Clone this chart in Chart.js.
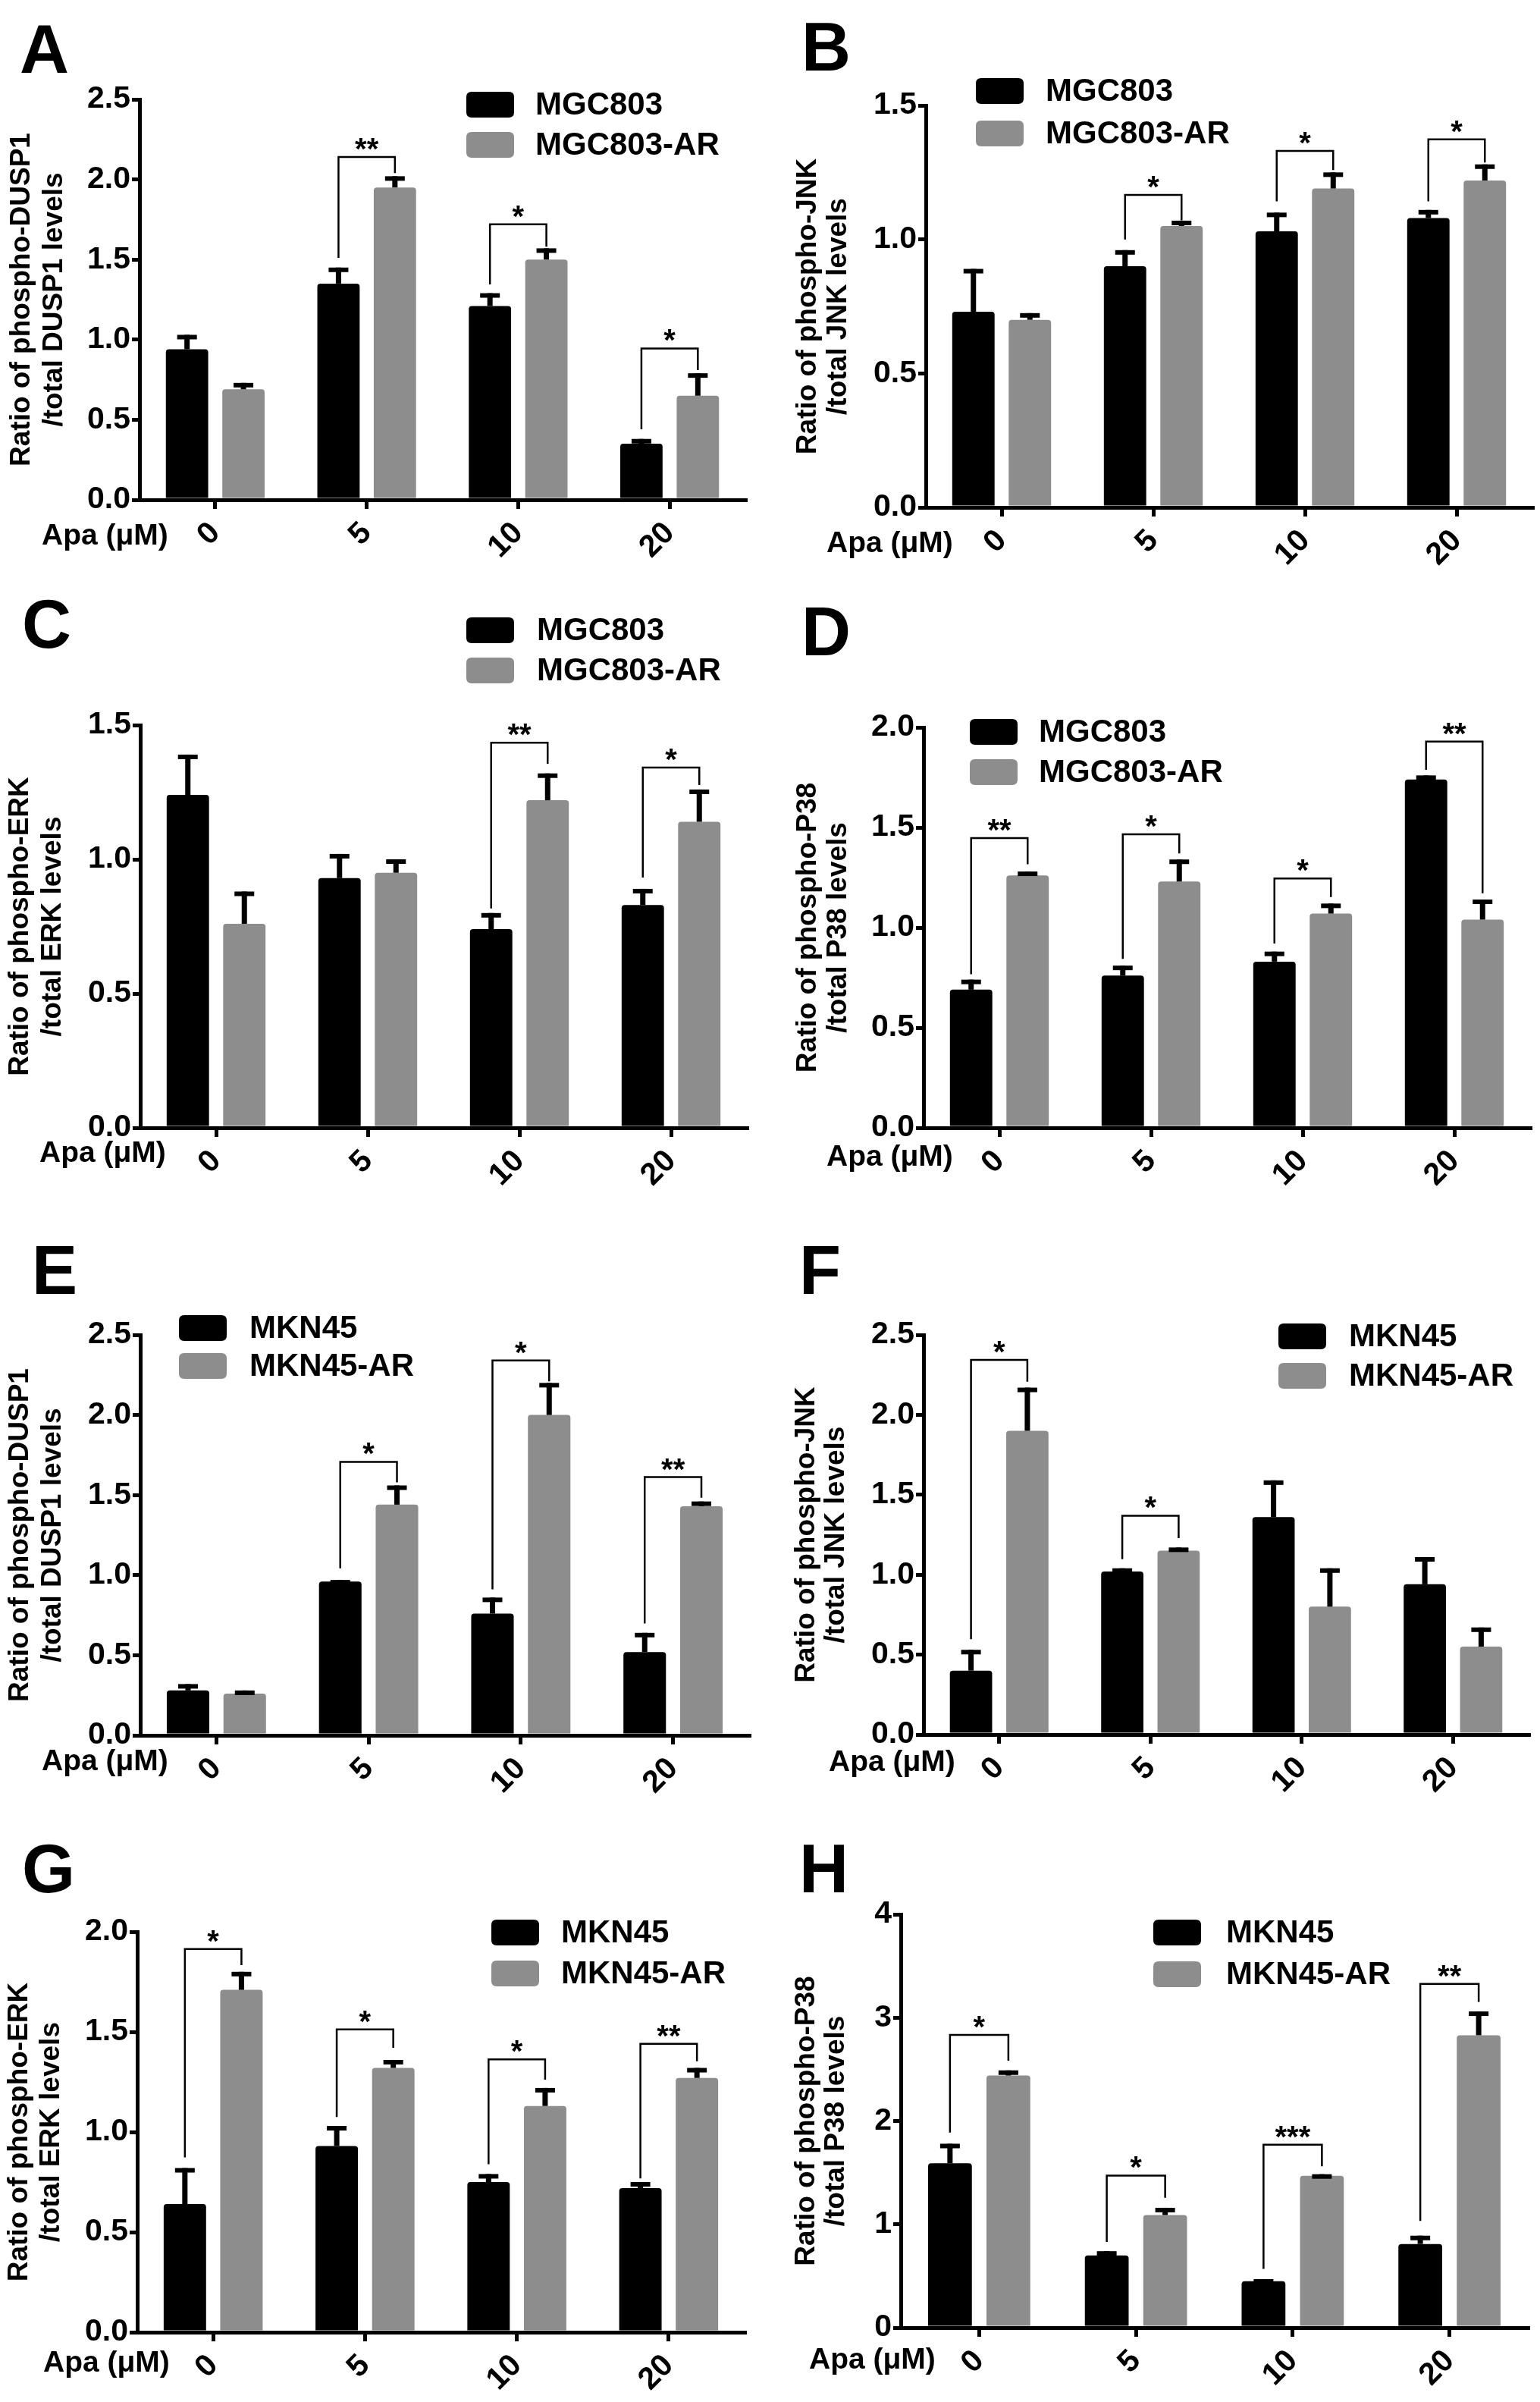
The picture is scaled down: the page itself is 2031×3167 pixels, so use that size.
<!DOCTYPE html>
<html><head><meta charset="utf-8">
<script src="https://cdn.jsdelivr.net/npm/chart.js@4.4.1/dist/chart.umd.min.js"></script>
<style>
html,body{margin:0;padding:0;background:#fff;}
#wrap{position:relative;width:2031px;height:3167px;background:#fff;overflow:hidden;}
#wrap canvas{position:absolute;}
</style></head><body><div id="wrap"></div>
<script>
// ---------------- DATA ----------------
const categories = ['0', '5', '10', '20'];
const doseLabel = 'Apa (μM)';
const mgcNames = ['MGC803', 'MGC803-AR'];
const mknNames = ['MKN45', 'MKN45-AR'];

// A: phospho-DUSP1 (MGC803)
const A_par = [0.94, 1.35, 1.21, 0.35];
const A_parErr = [0.09, 0.10, 0.08, 0.03];
const A_res = [0.69, 1.95, 1.50, 0.65];
const A_resErr = [0.04, 0.07, 0.07, 0.14];
const A_sigCat = [1, 2, 3];
const A_sigTop = [2.14, 1.72, 0.945];
const A_sigLeft = [1.51, 1.345, 0.44];
const A_sigRight = [2.04, 1.58, 0.81];
const A_sigText = ['**', '*', '*'];
const A_yTicks = [0, 0.5, 1.0, 1.5, 2.0, 2.5];

// B: phospho-JNK (MGC803)
const B_par = [0.73, 0.90, 1.03, 1.08];
const B_parErr = [0.16, 0.06, 0.07, 0.03];
const B_res = [0.70, 1.05, 1.19, 1.22];
const B_resErr = [0.025, 0.02, 0.06, 0.06];
const B_sigCat = [1, 2, 3];
const B_sigTop = [1.166, 1.33, 1.373];
const B_sigLeft = [1.0, 1.142, 1.142];
const B_sigRight = [1.071, 1.259, 1.287];
const B_sigText = ['*', '*', '*'];
const B_yTicks = [0, 0.5, 1.0, 1.5];

// C: phospho-ERK (MGC803)
const C_par = [1.24, 0.93, 0.74, 0.83];
const C_parErr = [0.15, 0.09, 0.06, 0.06];
const C_res = [0.76, 0.95, 1.22, 1.14];
const C_resErr = [0.12, 0.05, 0.10, 0.12];
const C_sigCat = [2, 3];
const C_sigTop = [1.434, 1.342];
const C_sigLeft = [0.817, 0.932];
const C_sigRight = [1.356, 1.277];
const C_sigText = ['**', '*'];
const C_yTicks = [0, 0.5, 1.0, 1.5];

// D: phospho-P38 (MGC803)
const D_par = [0.69, 0.76, 0.83, 1.74];
const D_parErr = [0.05, 0.05, 0.05, 0.02];
const D_res = [1.26, 1.23, 1.07, 1.04];
const D_resErr = [0.02, 0.11, 0.05, 0.10];
const D_sigCat = [0, 1, 2, 3];
const D_sigTop = [1.447, 1.466, 1.245, 1.929];
const D_sigLeft = [0.767, 0.844, 0.92, 1.788];
const D_sigRight = [1.316, 1.37, 1.152, 1.171];
const D_sigText = ['**', '*', '*', '**'];
const D_yTicks = [0, 0.5, 1.0, 1.5, 2.0];

// E: phospho-DUSP1 (MKN45)
const E_par = [0.28, 0.96, 0.76, 0.52];
const E_parErr = [0.04, 0.01, 0.10, 0.12];
const E_res = [0.26, 1.44, 2.00, 1.43];
const E_resErr = [0.02, 0.12, 0.20, 0.03];
const E_sigCat = [1, 2, 3];
const E_sigTop = [1.707, 2.34, 1.612];
const E_sigLeft = [1.043, 0.912, 0.698];
const E_sigRight = [1.579, 2.21, 1.483];
const E_sigText = ['*', '*', '**'];
const E_yTicks = [0, 0.5, 1.0, 1.5, 2.0, 2.5];

// F: phospho-JNK (MKN45)
const F_par = [0.40, 1.02, 1.36, 0.94];
const F_parErr = [0.13, 0.02, 0.23, 0.17];
const F_res = [1.90, 1.15, 0.80, 0.55];
const F_resErr = [0.27, 0.02, 0.24, 0.12];
const F_sigCat = [0, 1];
const F_sigTop = [2.343, 1.369];
const F_sigLeft = [0.596, 1.097];
const F_sigRight = [2.207, 1.229];
const F_sigText = ['*', '*'];
const F_yTicks = [0, 0.5, 1.0, 1.5, 2.0, 2.5];

// G: phospho-ERK (MKN45)
const G_par = [0.64, 0.93, 0.75, 0.72];
const G_parErr = [0.18, 0.10, 0.04, 0.03];
const G_res = [1.71, 1.32, 1.13, 1.27];
const G_resErr = [0.09, 0.04, 0.09, 0.05];
const G_sigCat = [0, 1, 2, 3];
const G_sigTop = [1.914, 1.512, 1.363, 1.44];
const G_sigLeft = [0.873, 1.075, 0.839, 0.768];
const G_sigRight = [1.833, 1.42, 1.261, 1.353];
const G_sigText = ['*', '*', '*', '**'];
const G_yTicks = [0, 0.5, 1.0, 1.5, 2.0];

// H: phospho-P38 (MKN45)
const H_par = [1.59, 0.70, 0.45, 0.81];
const H_parErr = [0.19, 0.04, 0.02, 0.08];
const H_res = [2.44, 1.09, 1.47, 2.83];
const H_resErr = [0.05, 0.07, 0.015, 0.23];
const H_sigCat = [0, 1, 2, 3];
const H_sigTop = [2.833, 1.472, 1.77, 3.327];
const H_sigLeft = [1.888, 0.829, 0.569, 1.033];
const H_sigRight = [2.584, 1.257, 1.561, 3.152];
const H_sigText = ['*', '*', '***', '**'];
const H_yTicks = [0, 1, 2, 3, 4];

const yTitles = {
  A: ['Ratio of phospho-DUSP1', '/total DUSP1 levels'],
  B: ['Ratio of phospho-JNK', '/total JNK levels'],
  C: ['Ratio of phospho-ERK', '/total ERK levels'],
  D: ['Ratio of phospho-P38', '/total P38 levels'],
  E: ['Ratio of phospho-DUSP1', '/total DUSP1 levels'],
  F: ['Ratio of phospho-JNK', '/total JNK levels'],
  G: ['Ratio of phospho-ERK', '/total ERK levels'],
  H: ['Ratio of phospho-P38', '/total P38 levels']
};

// ---------------- LAYOUT (page pixels) ----------------
const layout = {
  A: {x0:0, y0:0, w:1015, h:780, axisX:184, top:131, bottom:659, right:983, letter:[26,96], leg:[615,121,174], legText:706, yt:[29,72], xt:[55,718]},
  B: {x0:1015, y0:0, w:1016, h:780, axisX:1221, top:139, bottom:669, right:2021, letter:[1057,93], leg:[1287,103,159], legText:1379, yt:[1066,1106], xt:[1090,728]},
  C: {x0:0, y0:780, w:1015, h:800, axisX:185, top:956, bottom:1487, right:985, letter:[29,854], leg:[615,814,867], legText:708, yt:[27,70], xt:[52,1532]},
  D: {x0:1015, y0:780, w:1016, h:800, axisX:1218, top:959, bottom:1487, right:2018, letter:[1057,864], leg:[1279,948,1001], legText:1370, yt:[1066,1106], xt:[1090,1537]},
  E: {x0:0, y0:1580, w:1015, h:790, axisX:185, top:1760, bottom:2288, right:988, letter:[42,1706], leg:[236,1734,1784], legText:329, yt:[27,70], xt:[55,2334]},
  F: {x0:1015, y0:1580, w:1016, h:790, axisX:1218, top:1760, bottom:2287, right:2016, letter:[1054,1706], leg:[1686,1745,1797], legText:1779, yt:[1064,1103], xt:[1093,2335]},
  G: {x0:0, y0:2370, w:1015, h:797, axisX:181, top:2547, bottom:3075, right:982, letter:[29,2495], leg:[648,2531,2585], legText:740, yt:[26,68], xt:[57,3127]},
  H: {x0:1015, y0:2370, w:1016, h:797, axisX:1188, top:2524, bottom:3069, right:2015, letter:[1054,2495], leg:[1521,2531,2586], legText:1617, yt:[1064,1103], xt:[1067,3123]}
};

const panelData = {
  A: {par:A_par, parErr:A_parErr, res:A_res, resErr:A_resErr, cat:A_sigCat, top:A_sigTop, left:A_sigLeft, right:A_sigRight, text:A_sigText, ticks:A_yTicks, names:mgcNames},
  B: {par:B_par, parErr:B_parErr, res:B_res, resErr:B_resErr, cat:B_sigCat, top:B_sigTop, left:B_sigLeft, right:B_sigRight, text:B_sigText, ticks:B_yTicks, names:mgcNames},
  C: {par:C_par, parErr:C_parErr, res:C_res, resErr:C_resErr, cat:C_sigCat, top:C_sigTop, left:C_sigLeft, right:C_sigRight, text:C_sigText, ticks:C_yTicks, names:mgcNames},
  D: {par:D_par, parErr:D_parErr, res:D_res, resErr:D_resErr, cat:D_sigCat, top:D_sigTop, left:D_sigLeft, right:D_sigRight, text:D_sigText, ticks:D_yTicks, names:mgcNames},
  E: {par:E_par, parErr:E_parErr, res:E_res, resErr:E_resErr, cat:E_sigCat, top:E_sigTop, left:E_sigLeft, right:E_sigRight, text:E_sigText, ticks:E_yTicks, names:mknNames},
  F: {par:F_par, parErr:F_parErr, res:F_res, resErr:F_resErr, cat:F_sigCat, top:F_sigTop, left:F_sigLeft, right:F_sigRight, text:F_sigText, ticks:F_yTicks, names:mknNames},
  G: {par:G_par, parErr:G_parErr, res:G_res, resErr:G_resErr, cat:G_sigCat, top:G_sigTop, left:G_sigLeft, right:G_sigRight, text:G_sigText, ticks:G_yTicks, names:mknNames},
  H: {par:H_par, parErr:H_parErr, res:H_res, resErr:H_resErr, cat:H_sigCat, top:H_sigTop, left:H_sigLeft, right:H_sigRight, text:H_sigText, ticks:H_yTicks, names:mknNames}
};

// ---------------- STYLE ----------------
const FONT = '"Liberation Sans", Arial, Helvetica, sans-serif';
const BLACK = '#000000';
const GRAY = '#8d8d8d';

function roundRect(ctx, x, y, w, h, r) {
  ctx.beginPath();
  ctx.moveTo(x + r, y);
  ctx.lineTo(x + w - r, y); ctx.quadraticCurveTo(x + w, y, x + w, y + r);
  ctx.lineTo(x + w, y + h - r); ctx.quadraticCurveTo(x + w, y + h, x + w - r, y + h);
  ctx.lineTo(x + r, y + h); ctx.quadraticCurveTo(x, y + h, x, y + h - r);
  ctx.lineTo(x, y + r); ctx.quadraticCurveTo(x, y, x + r, y);
  ctx.closePath();
}

const extras = {
  id: 'extras',
  afterDatasetsDraw(chart, args, opts) {
    const L = opts.layout, D = opts.data, key = opts.key;
    const ctx = chart.ctx, ys = chart.scales.y;
    const ox = L.x0, oy = L.y0;
    ctx.save();
    // error bars (upper only)
    chart.data.datasets.forEach((ds, di) => {
      const meta = chart.getDatasetMeta(di);
      meta.data.forEach((bar, i) => {
        const v = ds.data[i], e = ds.errs[i];
        const yv = ys.getPixelForValue(v), ye = ys.getPixelForValue(v + e);
        ctx.fillStyle = BLACK;
        ctx.fillRect(bar.x - 3.5, ye, 7, Math.max(0, yv - ye));
        ctx.fillRect(bar.x - 13, ye, 26, 6);
      });
    });
    // significance brackets
    const m0 = chart.getDatasetMeta(0), m1 = chart.getDatasetMeta(1);
    D.cat.forEach((c, k) => {
      const xl = m0.data[c].x, xr = m1.data[c].x;
      const yt = ys.getPixelForValue(D.top[k]);
      const yl = ys.getPixelForValue(D.left[k]);
      const yr = ys.getPixelForValue(D.right[k]);
      ctx.strokeStyle = BLACK; ctx.lineWidth = 2.5;
      ctx.beginPath();
      ctx.moveTo(xl, yl); ctx.lineTo(xl, yt); ctx.lineTo(xr, yt); ctx.lineTo(xr, yr);
      ctx.stroke();
      ctx.font = 'bold 40px ' + FONT;
      ctx.fillStyle = BLACK; ctx.textAlign = 'center'; ctx.textBaseline = 'alphabetic';
      const mt = ctx.measureText(D.text[k]);
      const desc = mt.actualBoundingBoxDescent || -16;
      ctx.fillText(D.text[k], (xl + xr) / 2, yt - 9 - desc);
    });
    // legend
    const colors = [BLACK, GRAY];
    [L.leg[1], L.leg[2]].forEach((by, i) => {
      ctx.fillStyle = colors[i];
      roundRect(ctx, L.leg[0] - ox, by - oy, 63, 34, 7);
      ctx.fill();
      ctx.fillStyle = BLACK;
      ctx.font = 'bold 42px ' + FONT;
      ctx.textAlign = 'left'; ctx.textBaseline = 'middle';
      ctx.fillText(D.names[i], L.legText - ox, by - oy + 18);
    });
    // panel letter
    ctx.font = 'bold 90px ' + FONT;
    ctx.textAlign = 'left'; ctx.textBaseline = 'alphabetic';
    ctx.fillText(key, L.letter[0] - ox, L.letter[1] - oy);
    // y title (two lines, rotated)
    const cy = (chart.chartArea.top + chart.chartArea.bottom) / 2;
    ctx.font = 'bold 37px ' + FONT;
    ctx.textAlign = 'center'; ctx.textBaseline = 'middle';
    yTitles[key].forEach((line, i) => {
      ctx.save();
      ctx.translate(L.yt[i] - ox, cy);
      ctx.rotate(-Math.PI / 2);
      ctx.fillText(line, 0, 0);
      ctx.restore();
    });
    // x dose label
    ctx.font = 'bold 39px ' + FONT;
    ctx.textAlign = 'left'; ctx.textBaseline = 'alphabetic';
    ctx.fillText(doseLabel, L.xt[0] - ox, L.xt[1] - oy);
    ctx.restore();
  }
};

const wrap = document.getElementById('wrap');
Object.keys(layout).forEach(key => {
  const L = layout[key], D = panelData[key];
  const cv = document.createElement('canvas');
  cv.width = L.w; cv.height = L.h;
  cv.style.left = L.x0 + 'px'; cv.style.top = L.y0 + 'px';
  cv.style.width = L.w + 'px'; cv.style.height = L.h + 'px';
  wrap.appendChild(cv);
  const yMax = D.ticks[D.ticks.length - 1];
  const step = D.ticks[1] - D.ticks[0];
  const dec = Number.isInteger(step) ? 0 : 1;
  const tickFont = {family: FONT, size: 41, weight: 'bold'};
  new Chart(cv, {
    type: 'bar',
    data: {
      labels: categories,
      datasets: [
        {label: D.names[0], data: D.par, errs: D.parErr, backgroundColor: BLACK, borderRadius: 4, borderSkipped: 'bottom', categoryPercentage: 0.745, barPercentage: 0.75},
        {label: D.names[1], data: D.res, errs: D.resErr, backgroundColor: GRAY, borderRadius: 4, borderSkipped: 'bottom', categoryPercentage: 0.745, barPercentage: 0.75}
      ]
    },
    options: {
      responsive: false, animation: false, devicePixelRatio: 1,
      layout: {padding: {top: L.top - L.y0, right: L.x0 + L.w - L.right, left: 0, bottom: 0}},
      plugins: {legend: {display: false}, tooltip: {enabled: false}, extras: {layout: L, data: D, key: key}},
      scales: {
        x: {
          offset: true,
          grid: {offset: false, drawOnChartArea: false, drawTicks: true, tickLength: 12, lineWidth: 5, color: BLACK},
          border: {display: true, width: 5, color: BLACK},
          ticks: {font: tickFont, color: BLACK, minRotation: 45, maxRotation: 45, padding: 8, autoSkip: false},
          afterFit(s) { s.height = L.y0 + L.h - L.bottom; }
        },
        y: {
          min: 0, max: yMax,
          afterBuildTicks(s) { s.ticks = D.ticks.map(v => ({value: v})); },
          ticks: {font: tickFont, color: BLACK, padding: 2, callback: v => Number(v).toFixed(dec)},
          grid: {drawOnChartArea: false, drawTicks: true, tickLength: 10, lineWidth: 5, color: BLACK},
          border: {display: true, width: 5, color: BLACK},
          afterFit(s) { s.width = L.axisX - L.x0; }
        }
      }
    },
    plugins: [extras]
  });
});
</script></body></html>
